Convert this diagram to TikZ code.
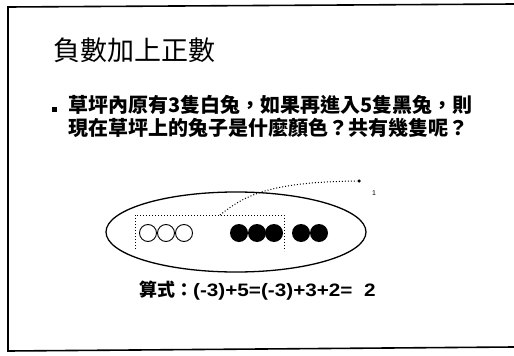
\documentclass[tikz,border=0pt]{standalone}
\usepackage{fontspec}
\usetikzlibrary{shapes.geometric}
\setmainfont{Liberation Sans}
\newfontfamily\cjk{Noto Sans CJK TC}
\newfontfamily\formfont[FakeStretch=1.15]{Liberation Sans}
\begin{document}
\begin{tikzpicture}[x=1pt,y=-1pt,
  frameline/.style={line width=1.6pt,black},
  dotline/.style={line width=1pt,dotted},
  whitedot/.style={circle,draw,line width=0.9pt,minimum size=17pt,inner sep=0pt,fill=white},
  blackdot/.style={circle,fill=black,minimum size=18pt,inner sep=0pt},
  bodytext/.style={anchor=west,inner sep=0pt,font=\cjk\bfseries\fontsize{20}{22}\selectfont}]
\useasboundingbox (0,0) rectangle (514,356);
% frame
\coordinate (ftr) at (514,4);
\coordinate (ftl) at (8,7);
\coordinate (fbl) at (8,351);
\coordinate (fbr) at (514,347);
\draw[frameline] (ftr) -- (ftl) -- (fbl) -- (fbr);
% title
\node[anchor=west,inner sep=0pt,font=\cjk\fontsize{27}{29}\selectfont] (title) at (53,50) {負數加上正數};
% bullet
\node[fill=black,minimum size=5pt,inner sep=0pt] (bul) at (54,109) {};
\node[bodytext] (l1) at (68,105) {草坪內原有3隻白兔，如果再進入5隻黑兔，則};
\node[bodytext] (l2) at (68,128) {現在草坪上的兔子是什麼顏色？共有幾隻呢？};
% ellipse
\node[draw,ellipse,line width=1.3pt,minimum width=260pt,minimum height=80pt,inner sep=0pt] (ell) at (236,232) {};
% dotted bracket
\coordinate (bl) at (135,249);
\coordinate (btl) at (135,215);
\coordinate (btr) at (284,215);
\coordinate (br) at (284,251);
\draw[dotline] (bl) -- (btl) -- (btr) -- (br);
% circles
\node[whitedot] (w1) at (148,233) {};
\node[whitedot] (w2) at (166,233) {};
\node[whitedot] (w3) at (184,233) {};
\node[blackdot] (b1) at (239,233) {};
\node[blackdot] (b2) at (257,233) {};
\node[blackdot] (b3) at (274,233) {};
\node[blackdot] (b4) at (301,233) {};
\node[blackdot] (b5) at (319,233) {};
% dotted curve
\coordinate (cs) at (220,215);
\node[circle,fill=black,minimum size=3.5pt,inner sep=0pt] (ce) at (359,181) {};
\draw[dotline] (cs) .. controls (245,195) and (270,182) .. (ce);
\node[inner sep=0pt,font=\fontsize{7}{8}\selectfont] (one) at (374,193) {1};
% formula
\node[anchor=west,inner sep=0pt] (form) at (139,291) {{\cjk\bfseries\fontsize{18}{20}\selectfont 算式：}{\formfont\bfseries\fontsize{18}{20}\selectfont (-3)+5=(-3)+3+2=\ \ 2}};
\end{tikzpicture}
\end{document}
